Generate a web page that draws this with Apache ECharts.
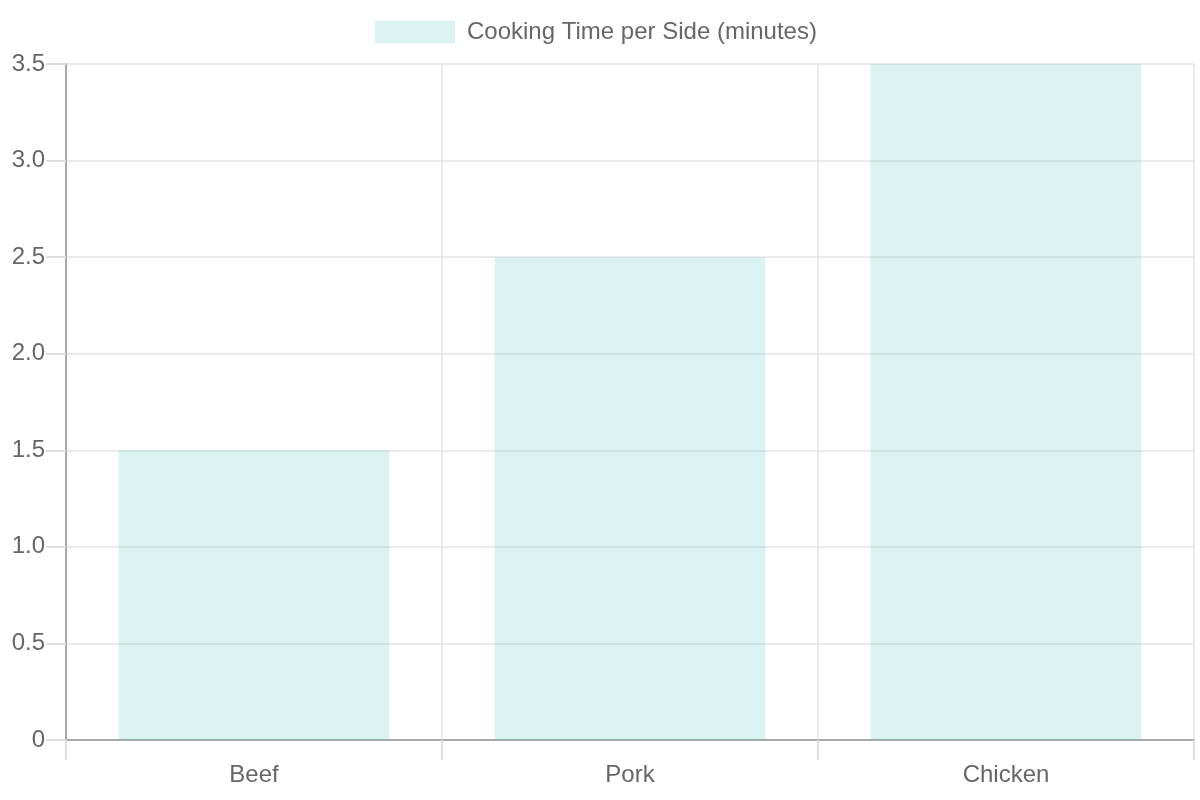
<!DOCTYPE html>
<html>
<head>
<meta charset="utf-8">
<script src="https://cdn.jsdelivr.net/npm/echarts@6/dist/echarts.min.js"></script>
<style>
  html, body { margin: 0; padding: 0; background: #fff; }
  #chart { width: 1200px; height: 800px; }
</style>
</head>
<body>
<div id="chart"></div>
<script>
var categories = ['Beef', 'Pork', 'Chicken'];
var cookTimes = [1.5, 2.5, 3.5];
var seriesName = 'Cooking Time per Side (minutes)';

var chart = echarts.init(document.getElementById('chart'));
var fontFamily = '"Liberation Sans", Arial, sans-serif';

var option = {
    animation: false,
    textStyle: { fontFamily: fontFamily },
    legend: {
        top: 15,
        left: 370,
        icon: 'rect',
        itemWidth: 80,
        itemHeight: 23,
        itemGap: 12,
        textStyle: { fontSize: 24, color: '#666', fontFamily: fontFamily, padding: [0, 0, 0, 7] },
        data: [seriesName]
    },
    grid: {
        left: 66,
        right: 6,
        top: 64,
        bottom: 60,
        containLabel: false
    },
    xAxis: {
        type: 'category',
        data: categories,
        boundaryGap: true,
        axisLine: { show: true, lineStyle: { color: '#a8a8a8', width: 2 } },
        axisTick: { show: true, length: 20, alignWithLabel: false, lineStyle: { color: '#dedede', width: 2 } },
        splitLine: { show: true, lineStyle: { color: '#e4e4e4', width: 1.5 } },
        axisLabel: { fontSize: 24, color: '#666', margin: 23, fontFamily: fontFamily }
    },
    yAxis: {
        type: 'value',
        min: 0,
        max: 3.5,
        interval: 0.5,
        axisLine: { show: true, lineStyle: { color: '#a8a8a8', width: 2 } },
        axisTick: { show: true, length: 20, lineStyle: { color: '#dedede', width: 2 } },
        splitLine: { show: true, lineStyle: { color: '#e4e4e4', width: 1.5 } },
        axisLabel: {
            fontSize: 24,
            color: '#666',
            margin: 21,
            padding: [3, 0, 0, 0],
            fontFamily: fontFamily,
            formatter: function (v) { return v === 0 ? '0' : v.toFixed(1); }
        }
    },
    series: [{
        name: seriesName,
        type: 'bar',
        data: cookTimes,
        barCategoryGap: '28%',
        itemStyle: { color: 'rgba(75,192,192,0.2)' },
        z: 1
    }]
};
chart.setOption(option);
</script>
</body>
</html>
